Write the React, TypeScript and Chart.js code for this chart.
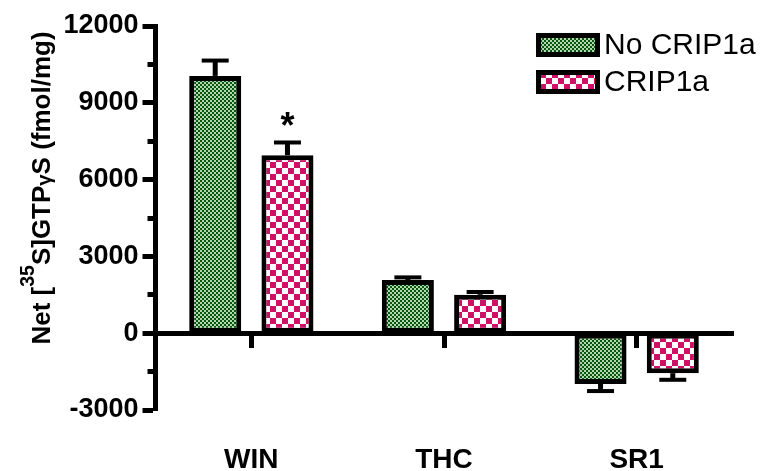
import React, { useEffect, useRef } from "react";
import { Chart, registerables } from "chart.js";

Chart.register(...registerables);

// Agonist groups along the x axis
const categories = ["WIN", "THC", "SR1"];
const seriesNames = ["No CRIP1a", "CRIP1a"];

// Net [35S]GTPγS binding (fmol/mg), mean and SEM
const noCrip1aMean = [10050, 2080, -1980];
const noCrip1aSem = [600, 100, 280];
const crip1aMean = [6950, 1500, -1560];
const crip1aSem = [500, 110, 260];
const crip1aSignificance = ["*", "", ""];

// Y axis range, labelled steps and minor steps
const yMin = -3000;
const yMax = 12000;
const yLabelStep = 3000;
const yMinorStep = 1500;

const FONT = '"Liberation Sans", Arial, Helvetica, sans-serif';

function checker(cell: number, ink: string, paper: string): CanvasPattern {
  const c = document.createElement("canvas");
  c.width = cell * 2;
  c.height = cell * 2;
  const g = c.getContext("2d")!;
  g.fillStyle = paper;
  g.fillRect(0, 0, cell * 2, cell * 2);
  g.fillStyle = ink;
  g.fillRect(0, 0, cell, cell);
  g.fillRect(cell, cell, cell, cell);
  return g.createPattern(c, "repeat")!;
}

// Vertical SEM whiskers (away from zero) with a cap, plus significance marks
const errorBars = {
  id: "errorBars",
  afterDatasetsDraw(chart: any) {
    const { ctx } = chart;
    const yScale = chart.scales.y;
    chart.data.datasets.forEach((ds: any, di: number) => {
      const meta = chart.getDatasetMeta(di);
      meta.data.forEach((bar: any, i: number) => {
        const v = ds.data[i];
        const e = ds.sem[i];
        const end = v + Math.sign(v) * e;
        const p0 = yScale.getPixelForValue(v);
        const p1 = yScale.getPixelForValue(end);
        ctx.save();
        ctx.strokeStyle = "#000";
        ctx.lineWidth = 5;
        ctx.beginPath();
        ctx.moveTo(bar.x, p0);
        ctx.lineTo(bar.x, p1);
        ctx.stroke();
        ctx.lineWidth = 4;
        ctx.beginPath();
        ctx.moveTo(bar.x - 13.5, p1);
        ctx.lineTo(bar.x + 13.5, p1);
        ctx.stroke();
        const mark = ds.marks ? ds.marks[i] : "";
        if (mark) {
          ctx.fillStyle = "#000";
          ctx.font = `bold 36px ${FONT}`;
          ctx.textAlign = "center";
          ctx.textBaseline = "alphabetic";
          ctx.fillText(mark, bar.x, p1 - 4);
        }
        ctx.restore();
      });
    });
  },
};

// Legend with patterned swatches
const swatchLegend = {
  id: "swatchLegend",
  afterDraw(chart: any, _args: any, opts: any) {
    const { ctx } = chart;
    chart.data.datasets.forEach((ds: any, i: number) => {
      const x = opts.x;
      const y = opts.y + i * opts.rowGap;
      ctx.save();
      ctx.fillStyle = "#000";
      ctx.fillRect(x, y, opts.boxW, opts.boxH);
      ctx.fillStyle = ds.backgroundColor;
      ctx.fillRect(x + 5, y + 5, opts.boxW - 10, opts.boxH - 10);
      ctx.fillStyle = "#000";
      ctx.font = `${opts.fontSize}px ${FONT}`;
      ctx.textAlign = "left";
      ctx.textBaseline = "middle";
      ctx.fillText(ds.label, x + opts.boxW + 4, y + opts.boxH / 2 + 1);
      ctx.restore();
    });
  },
};

// Rotated y-axis title with a superscript isotope number
const yTitle = {
  id: "yTitle",
  afterDraw(chart: any, _args: any, opts: any) {
    const { ctx } = chart;
    const size = opts.fontSize;
    const parts = [
      { t: "Net [", s: size, dy: 0 },
      { t: "35", s: size * 0.75, dy: -size * 0.6 },
      { t: "S]GTP", s: size, dy: 0 },
      { t: "γ", s: size * 0.78, dy: 1 },
      { t: "S (fmol/mg)", s: size, dy: 0 },
    ];
    ctx.save();
    let total = 0;
    const widths = parts.map((p) => {
      ctx.font = `bold ${p.s}px ${FONT}`;
      const w = ctx.measureText(p.t).width;
      total += w;
      return w;
    });
    ctx.translate(opts.x, opts.centerY);
    ctx.rotate(-Math.PI / 2);
    ctx.fillStyle = "#000";
    ctx.textAlign = "left";
    ctx.textBaseline = "alphabetic";
    let cx = -total / 2;
    parts.forEach((p, i) => {
      ctx.font = `bold ${p.s}px ${FONT}`;
      ctx.fillText(p.t, cx, p.dy);
      cx += widths[i];
    });
    ctx.restore();
  },
};

export default function App() {
  const ref = useRef<HTMLCanvasElement | null>(null);

  useEffect(() => {
    const canvas = ref.current;
    if (!canvas) return;
    const green = checker(2, "#0a560f", "#b0d6b0");
    const pink = checker(6, "#cf1066", "#ffffff");

    const chart = new Chart(canvas, {
      type: "bar",
      data: {
        labels: categories,
        datasets: [
          {
            label: seriesNames[0],
            data: noCrip1aMean,
            sem: noCrip1aSem,
            backgroundColor: green,
            borderColor: "#000",
            borderWidth: 5,
            borderSkipped: false,
          } as any,
          {
            label: seriesNames[1],
            data: crip1aMean,
            sem: crip1aSem,
            marks: crip1aSignificance,
            backgroundColor: pink,
            borderColor: "#000",
            borderWidth: 5,
            borderSkipped: false,
          } as any,
        ],
      },
      options: {
        responsive: true,
        maintainAspectRatio: false,
        animation: false,
        events: [],
        categoryPercentage: 0.75,
        barPercentage: 0.72,
        layout: { padding: { top: 26, right: 32, left: 0, bottom: 0 } },
        scales: {
          x: {
            type: "category",
            position: "bottom",
            offset: true,
            grid: { display: false, drawTicks: false },
            border: { display: false },
            ticks: {
              color: "#000",
              padding: 33,
              font: { family: FONT, size: 28, weight: "bold" },
            },
            afterFit: (s: any) => {
              s.height = 61;
            },
          },
          xZero: {
            type: "category",
            axis: "x",
            labels: categories,
            position: { y: 0 },
            offset: true,
            grid: {
              display: true,
              drawOnChartArea: false,
              offset: false,
              tickLength: 12,
              tickWidth: 5,
              tickColor: "#000",
            },
            border: { display: true, color: "#000", width: 5 },
            ticks: { display: false },
          },
          y: {
            min: yMin,
            max: yMax,
            afterFit: (s: any) => {
              s.width = 155;
            },
            ticks: {
              stepSize: yMinorStep,
              color: "#000",
              padding: 4,
              font: { family: FONT, size: 27, weight: "bold" },
              callback: (v: any) => (Number(v) % yLabelStep === 0 ? String(v) : ""),
            },
            grid: {
              display: true,
              drawOnChartArea: false,
              drawTicks: true,
              tickLength: 12.5,
              tickWidth: 5,
              tickColor: "#000",
              tickBorderDash: (c: any) =>
                c.tick && Number(c.tick.value) % yLabelStep !== 0 ? [0, 5, 20] : [],
            },
            border: { display: true, color: "#000", width: 5 },
          },
        } as any,
        plugins: {
          legend: { display: false },
          tooltip: { enabled: false },
          swatchLegend: { x: 536, y: 33, boxW: 64, boxH: 24, rowGap: 37, fontSize: 30 },
          yTitle: { x: 50, centerY: 188, fontSize: 26 },
        } as any,
      },
      plugins: [errorBars, swatchLegend, yTitle],
    });
    return () => chart.destroy();
  }, []);

  return (
    <div style={{ position: "fixed", left: 0, top: 0, width: 765, height: 471, background: "#fff" }}>
      <canvas ref={ref} />
    </div>
  );
}
